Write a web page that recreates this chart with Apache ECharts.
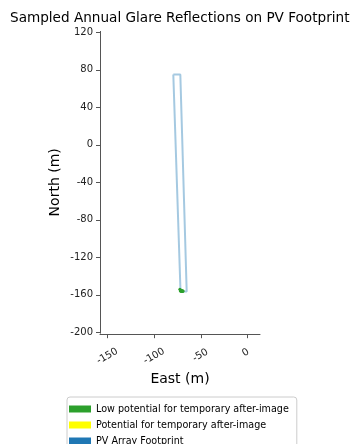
<!DOCTYPE html>
<html><head><meta charset="utf-8">
<script src="https://cdn.jsdelivr.net/npm/echarts@6/dist/echarts.min.js"></script>
<style>html,body{margin:0;padding:0;background:#fff}#c{width:353px;height:444px}</style>
</head><body><div id="c"></div>
<script>
// Data (metres)
const footprintX = [-79.5, -72.0, -65.2, -71.8, -79.5];
const footprintY = [75, 75, -156.5, -156.5, 75];
const glareLowX = [-72.5, -71.5, -70.5, -69.5, -71.0, -70.0, -72.0, -69.0];
const glareLowY = [-154.0, -155.0, -156.0, -156.5, -156.5, -155.5, -156.0, -156.0];
const glarePotX = [];
const glarePotY = [];
const xTicks = [-150, -100, -50, 0];
const yTicks = [120, 80, 40, 0, -40, -80, -120, -160, -200];
const legendNames = ['Low potential for temporary after-image', 'Potential for temporary after-image', 'PV Array Footprint'];

const font = 'DejaVu Sans';
const chart = echarts.init(document.getElementById('c'), null, {renderer: 'canvas'});
const zip = (a, b) => a.map((v, i) => [v, b[i]]);
chart.setOption({
  animation: false,
  title: {
    text: 'Sampled Annual Glare Reflections on PV Footprint',
    left: 5, top: 6,
    textStyle: {fontFamily: font, fontSize: 13.6, fontWeight: 'normal', color: '#000'}
  },
  grid: {left: 100, top: 31.4, width: 160, height: 301.8},
  xAxis: {
    type: 'value', min: -157.8, max: 13.1, offset: 1,
    name: 'East (m)', nameLocation: 'middle', nameGap: 37,
    nameTextStyle: {fontFamily: font, fontSize: 14, color: '#000'},
    axisLine: {show: true, onZero: false, lineStyle: {color: '#555', width: 1}},
    axisTick: {show: true, length: 4, customValues: xTicks, lineStyle: {color: '#555'}},
    axisLabel: {customValues: xTicks, rotate: 30, align: 'center', verticalAlign: 'middle', margin: 22,
      fontFamily: font, fontSize: 10, color: '#222',
      formatter: v => {
        const s = String(v);
        return s.length <= 1 ? '{s|' + s + '}' : (s.length === 3 ? '{m|' + s + '}' : '{l|' + s + '}');
      },
      rich: {
        s: {fontFamily: font, fontSize: 10, color: '#222', padding: [0, 0, 8, 0]},
        m: {fontFamily: font, fontSize: 10, color: '#222', padding: [0, 0, 2, 0]},
        l: {fontFamily: font, fontSize: 10, color: '#222'}
      }
    },
    splitLine: {show: false}
  },
  yAxis: {
    type: 'value', min: -201, max: 121,
    name: 'North (m)', nameLocation: 'middle', nameGap: 38, nameRotate: 90,
    nameTextStyle: {fontFamily: font, fontSize: 14, color: '#000'},
    axisLine: {show: true, onZero: false, lineStyle: {color: '#555', width: 1}},
    axisTick: {show: true, length: 4, customValues: yTicks, lineStyle: {color: '#555'}},
    axisLabel: {customValues: yTicks, margin: 7, fontFamily: font, fontSize: 10, color: '#222'},
    splitLine: {show: false}
  },
  legend: {
    orient: 'vertical', left: 67, top: 397, height: 80,
    data: legendNames,
    icon: 'rect', itemWidth: 22, itemHeight: 7, itemGap: 4,
    padding: [6, 8, 6, 2],
    borderColor: '#ccc', borderWidth: 1, borderRadius: 3,
    textStyle: {fontFamily: font, fontSize: 9.6, color: '#000', lineHeight: 12}
  },
  series: [
    {
      name: legendNames[0], type: 'scatter', data: zip(glareLowX, glareLowY),
      symbolSize: 3, itemStyle: {color: '#2ca02c', opacity: 1}, z: 3
    },
    {
      name: legendNames[1], type: 'scatter', data: zip(glarePotX, glarePotY),
      symbolSize: 3, itemStyle: {color: '#ffff00', opacity: 1}, z: 3
    },
    {
      name: legendNames[2], type: 'line', data: zip(footprintX, footprintY),
      showSymbol: false, symbol: 'none', itemStyle: {color: '#1f77b4'},
      lineStyle: {color: 'rgba(31,119,180,0.4)', width: 2}, z: 2
    }
  ]
});
</script></body></html>
